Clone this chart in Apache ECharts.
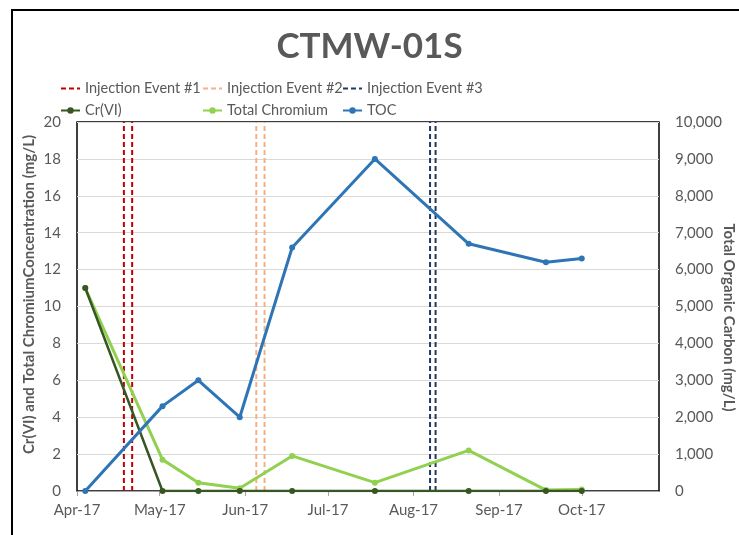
<!DOCTYPE html>
<html>
<head>
<meta charset="utf-8">
<script src="https://cdn.jsdelivr.net/npm/echarts@6/dist/echarts.min.js"></script>
<style>
  html, body { margin: 0; padding: 0; background: #fff; }
  #chart { width: 739px; height: 535px; }
</style>
</head>
<body>
<div id="chart"></div>
<script>
// sample dates
var dates = ['2017-04-04', '2017-05-02', '2017-05-15', '2017-05-30', '2017-06-18',
  '2017-07-18', '2017-08-21', '2017-09-18', '2017-10-01'];
var crvi = [11.0, 0, 0, 0, 0, 0, 0, 0, 0];
var totalCr = [11.0, 1.7, 0.45, 0.15, 1.9, 0.45, 2.2, 0.05, 0.08];
var toc = [0, 2300, 3000, 2000, 6600, 9000, 6700, 6200, 6300];
// injection events (two dates each)
var event1 = ['2017-04-18', '2017-04-21'];
var event2 = ['2017-06-05', '2017-06-08'];
var event3 = ['2017-08-07', '2017-08-09'];
var months = ['Jan','Feb','Mar','Apr','May','Jun','Jul','Aug','Sep','Oct','Nov','Dec'];
var legendNames = ['Injection Event #1', 'Injection Event #2', 'Injection Event #3',
  'Cr(VI)', 'Total Chromium', 'TOC'];

var font = 'Lato';
var grey = '#595959';

function pairs(xs, ys) {
  return xs.map(function (d, i) { return [d, ys[i]]; });
}

function eventSeries(name, ds, color) {
  return ds.map(function (d) {
    return {
      name: name,
      type: 'line',
      yAxisIndex: 0,
      symbol: 'none',
      silent: true,
      lineStyle: { color: color, width: 2, type: [5, 3] },
      itemStyle: { color: color },
      data: [[d, 0], [d, 20]]
    };
  });
}

// one legend per entry so the columns line up like the original
var legends = legendNames.map(function (n, i) {
  var item = { name: n };
  if (i < 3) item.itemStyle = { opacity: 0 };
  return {
    left: [60, 202, 342][i % 3],
    top: i < 3 ? 81 : 103,
    padding: 0,
    itemWidth: 19,
    itemHeight: 8,
    textStyle: { fontFamily: font, fontSize: 14.5, color: grey },
    data: [item]
  };
});

var chart = echarts.init(document.getElementById('chart'));
var option = {
  animation: false,
  textStyle: { fontFamily: font },
  title: {
    text: 'CTMW-01S',
    left: 'center',
    top: 24,
    textStyle: { fontFamily: font, fontSize: 35, fontWeight: 'bold', color: grey }
  },
  graphic: [{
    type: 'rect',
    shape: { x: 12, y: 10, width: 740, height: 540 },
    style: { fill: 'none', stroke: '#000', lineWidth: 2 }
  }],
  legend: legends,
  grid: {
    left: 77, right: 80, top: 122, bottom: 44,
    outerBoundsMode: 'none',
    show: true, borderColor: '#000', borderWidth: 1.5
  },
  xAxis: {
    type: 'time',
    min: '2017-04-01',
    max: '2017-10-29',
    minInterval: 28 * 86400000,
    maxInterval: 31 * 86400000,
    axisLine: { lineStyle: { color: '#a6a6a6' } },
    axisTick: { show: true, length: 5, lineStyle: { color: '#a6a6a6' } },
    splitLine: { show: false },
    axisLabel: {
      fontFamily: font, fontSize: 15, color: grey, margin: 12,
      formatter: function (v) {
        var d = new Date(v);
        return months[d.getMonth()] + '-' + String(d.getFullYear()).slice(2);
      }
    }
  },
  yAxis: [{
    type: 'value',
    min: 0, max: 20, interval: 2,
    name: 'Cr(VI) and Total ChromiumConcentration (mg/L)',
    nameLocation: 'middle',
    nameGap: 40,
    nameMoveOverlap: false,
    nameTextStyle: {
      fontFamily: font, fontSize: 15, fontWeight: 'bold', color: grey,
      padding: [0, 0, 0, 24]
    },
    axisLine: { show: false },
    axisTick: { show: false },
    splitLine: { lineStyle: { color: '#d9d9d9', width: 1 } },
    axisLabel: { fontFamily: font, fontSize: 15, color: grey, margin: 16 }
  }, {
    type: 'value',
    min: 0, max: 10000, interval: 1000,
    position: 'right',
    name: 'Total Organic Carbon (mg/L)',
    nameLocation: 'middle',
    nameRotate: -90,
    nameGap: 62,
    nameMoveOverlap: false,
    nameTextStyle: {
      fontFamily: font, fontSize: 15, fontWeight: 'bold', color: grey,
      padding: [0, 0, 0, 22]
    },
    axisLine: { show: false },
    axisTick: { show: false },
    splitLine: { show: false },
    axisLabel: {
      fontFamily: font, fontSize: 15, color: grey, margin: 16,
      formatter: function (v) { return v.toLocaleString('en-US'); }
    }
  }],
  series: [].concat(
    eventSeries('Injection Event #1', event1, '#c00000'),
    eventSeries('Injection Event #2', event2, '#f4b183'),
    eventSeries('Injection Event #3', event3, '#1f3864'),
    [{
      name: 'Cr(VI)',
      type: 'line',
      yAxisIndex: 0,
      symbol: 'circle',
      symbolSize: 6,
      lineStyle: { color: '#375623', width: 2.5 },
      itemStyle: { color: '#375623' },
      data: pairs(dates, crvi),
      z: 4
    }, {
      name: 'Total Chromium',
      type: 'line',
      yAxisIndex: 0,
      symbol: 'circle',
      symbolSize: 6,
      lineStyle: { color: '#92d050', width: 3 },
      itemStyle: { color: '#92d050' },
      data: pairs(dates, totalCr),
      z: 3
    }, {
      name: 'TOC',
      type: 'line',
      yAxisIndex: 1,
      symbol: 'circle',
      symbolSize: 6,
      lineStyle: { color: '#2e75b6', width: 3 },
      itemStyle: { color: '#2e75b6' },
      data: pairs(dates, toc),
      z: 5
    }]
  )
};
chart.setOption(option);
</script>
</body>
</html>
